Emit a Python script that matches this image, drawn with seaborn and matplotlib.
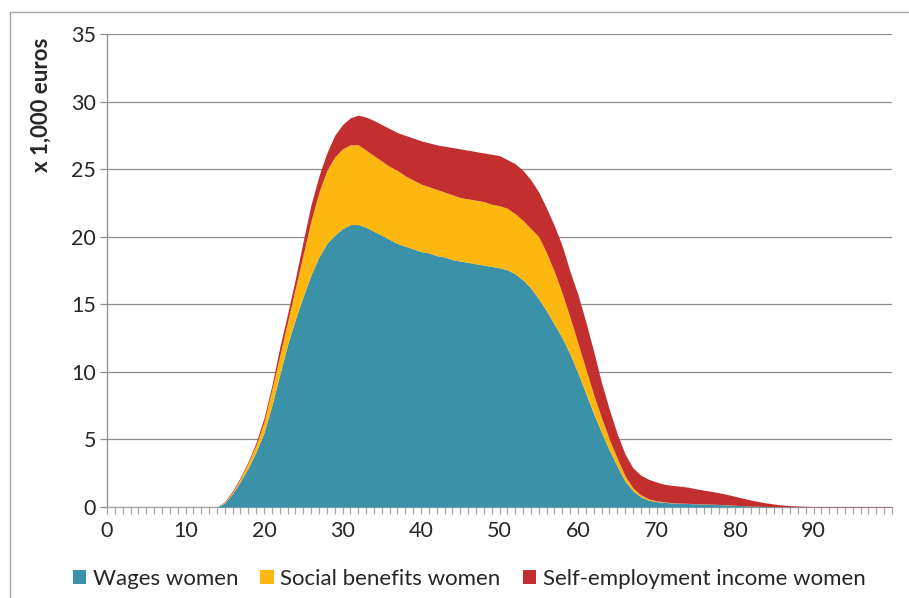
import numpy as np
import pandas as pd
import matplotlib.pyplot as plt
import seaborn as sns
from matplotlib.lines import Line2D
from matplotlib.patches import Patch
from matplotlib.ticker import MultipleLocator

ages = list(range(0, 101))

wages = [0] * 15 + [
    0.3, 1.0, 1.9, 2.9, 4.1, 5.5, 7.5, 9.8, 12.0, 13.9,
    15.6, 17.2, 18.5, 19.5, 20.1, 20.6, 20.9, 20.9, 20.7, 20.4,
    20.1, 19.8, 19.5, 19.3, 19.1, 18.9, 18.8, 18.6, 18.5, 18.3,
    18.2, 18.1, 18.0, 17.9, 17.8, 17.7, 17.55, 17.25, 16.8, 16.2,
    15.4, 14.5, 13.5, 12.5, 11.3, 9.9, 8.4, 6.9, 5.5, 4.2,
    3.0, 1.9, 1.2, 0.75, 0.5, 0.4, 0.35, 0.3, 0.28, 0.26,
    0.24, 0.22, 0.2, 0.18, 0.15, 0.12, 0.1, 0.07, 0.05, 0.04,
    0.03, 0.02, 0.02, 0.02, 0.02, 0.01, 0.01, 0.01, 0.01, 0.01,
    0.01, 0.01, 0.01, 0.01, 0.01, 0.01,
]

benefits = [0] * 15 + [
    0.05, 0.1, 0.2, 0.4, 0.5, 0.8, 1.2, 1.4, 1.7, 2.3,
    3.1, 4.0, 4.8, 5.4, 5.8, 5.9, 5.9, 5.9, 5.7, 5.6,
    5.5, 5.4, 5.4, 5.2, 5.1, 5.0, 4.9, 4.9, 4.8, 4.8,
    4.7, 4.7, 4.7, 4.7, 4.6, 4.6, 4.55, 4.45, 4.4, 4.4,
    4.6, 4.3, 3.9, 3.3, 2.7, 2.2, 1.8, 1.4, 1.1, 0.8,
    0.6, 0.4, 0.2, 0.15, 0.1, 0.05, 0.03, 0.02, 0.01, 0.01,
    0.01, 0.01, 0.01, 0.01, 0.01, 0.01, 0, 0, 0, 0,
    0, 0, 0, 0, 0, 0, 0, 0, 0, 0,
    0, 0, 0, 0, 0, 0,
]

self_employment = [0] * 15 + [
    0.05, 0.1, 0.1, 0.1, 0.2, 0.3, 0.3, 0.6, 0.6, 0.7,
    1.0, 1.2, 1.2, 1.3, 1.6, 1.8, 2.0, 2.2, 2.45, 2.6,
    2.7, 2.8, 2.8, 3.0, 3.1, 3.2, 3.25, 3.3, 3.4, 3.5,
    3.6, 3.6, 3.6, 3.6, 3.7, 3.7, 3.6, 3.7, 3.7, 3.6,
    3.3, 3.3, 3.4, 3.5, 3.4, 3.6, 3.5, 3.2, 2.6, 2.2,
    1.8, 1.6, 1.5, 1.45, 1.45, 1.4, 1.3, 1.28, 1.25, 1.2,
    1.1, 1.02, 0.95, 0.86, 0.77, 0.66, 0.55, 0.45, 0.35, 0.26,
    0.19, 0.13, 0.08, 0.05, 0.03, 0.02, 0.02, 0.02, 0.02, 0.02,
    0.02, 0.02, 0.02, 0.02, 0.02, 0.02,
]

series_names = ["Wages women", "Social benefits women", "Self-employment income women"]
colors = ["#3A91A8", "#FDB70F", "#C32F2F"]
x_tick_labels = ["0", "10", "20", "30", "40", "50", "60", "70", "80", "90"]

df = pd.DataFrame({"age": ages, series_names[0]: wages,
                   series_names[1]: benefits, series_names[2]: self_employment})

sns.set_style("white")
plt.rcParams["font.family"] = ["Lato", "DejaVu Sans"]

fig = plt.figure(figsize=(9.09, 5.98), dpi=100)
ax = fig.add_axes([107 / 909, 1 - 507 / 598, 785 / 909, 473 / 598])

ax.stackplot(df["age"], df[series_names[0]], df[series_names[1]], df[series_names[2]],
             colors=colors, linewidth=0, zorder=3)

grid_col = "#8C8C8C"
ax.set_xlim(0, 100)
ax.set_ylim(0, 35)
ax.set_yticks(np.arange(0, 36, 5))
ax.yaxis.grid(True, color=grid_col, linewidth=0.9, zorder=0)
ax.xaxis.grid(False)

ax.set_xticks(np.arange(0, 91, 10))
ax.set_xticklabels(x_tick_labels)
ax.xaxis.set_minor_locator(MultipleLocator(1))
ax.tick_params(axis="x", which="both", direction="out", length=5, width=0.9,
               color="#A6A6A6", bottom=True, labelsize=15.5, pad=5)
ax.tick_params(axis="y", which="major", direction="out", length=5, width=0.9,
               color=grid_col, left=True, labelsize=15.5, pad=3)

for side in ["top", "right"]:
    ax.spines[side].set_visible(False)
ax.spines["left"].set_color(grid_col)
ax.spines["left"].set_linewidth(0.9)
ax.spines["bottom"].set_color("#A6A6A6")
ax.spines["bottom"].set_linewidth(0.9)

ax.set_ylabel("x 1,000 euros", fontsize=16, fontweight="bold")
ax.yaxis.set_label_coords(-0.07, 0.85)

handles = [Patch(facecolor=c, edgecolor="none") for c in colors]
fig.legend(handles, series_names, loc="center", bbox_to_anchor=(0.516, 0.032),
           ncol=3, frameon=False, fontsize=16, handlelength=0.6, handleheight=0.6,
           handletextpad=0.3, columnspacing=1.0)

border = "#A6A6A6"
fig.add_artist(Line2D([10 / 909, 10 / 909], [0, 1 - 12 / 598], transform=fig.transFigure,
                      color=border, linewidth=1))
fig.add_artist(Line2D([10 / 909, 1], [1 - 12 / 598, 1 - 12 / 598], transform=fig.transFigure,
                      color=border, linewidth=1))

fig.savefig("out.png", dpi=100)
